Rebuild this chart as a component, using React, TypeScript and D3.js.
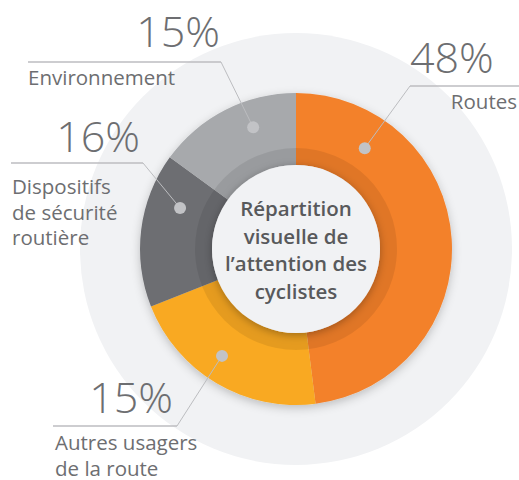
import React, { useEffect } from "react";
import * as d3 from "d3";

// ---- data ----
const categories = ["Routes", "Autres usagers de la route", "Dispositifs de sécurité routière", "Environnement"];
const labelValues = [48, 15, 16, 15]; // printed percentages
const arcShares = [48, 21, 16, 15]; // share of the ring as drawn
const sliceColors = ["#F3812B", "#F9A921", "#6D6E72", "#A7A9AC"];
const labelLines = [["Routes"], ["Autres usagers", "de la route"], ["Dispositifs", "de sécurité", "routière"], ["Environnement"]];
const centerTitle = ["Répartition", "visuelle de", "l’attention des", "cyclistes"];

// ---- layout for labels (leader geometry) ----
const dotAngles = [34.3, 214.7, 289.5, 340.6]; // degrees clockwise from top
const dotRadius = [122, 130, 123, 129];
const labelLayout = [
  { cornerX: 410, lineY: 86, lineX1: 519, side: "right", pctX: 410, pctY: 73, textX: 517, textY: 109 },
  { cornerX: 177, lineY: 426, lineX1: 53, side: "left", pctX: 173, pctY: 413, textX: 55, textY: 450 },
  { cornerX: 143, lineY: 163, lineX1: 11, side: "left", pctX: 140, pctY: 152, textX: 12, textY: 194 },
  { cornerX: 221, lineY: 62, lineX1: 28, side: "left", pctX: 220, pctY: 47, textX: 28, textY: 85 },
];

const W = 519;
const H = 480;
const cx = 296;
const cy = 249;

export default function App() {
  useEffect(() => {
    document.body.style.margin = "0";
  }, []);

  const pie = d3.pie<number>().sort(null).value((d) => d);
  const arcs = pie(arcShares);
  const outerR = 156;
  const bandR = 101;
  const innerR = 84;
  const arcGen = d3.arc<d3.PieArcDatum<number>>().innerRadius(innerR).outerRadius(outerR);
  const band = d3.arc()({ innerRadius: innerR, outerRadius: bandR, startAngle: 0, endAngle: Math.PI * 2 } as any) as string;

  const font = "'Open Sans', 'Noto Sans', sans-serif";
  const textColor = "#6D6E71";
  const lineColor = "#BCBDC0";

  return (
    <svg width={W} height={H} style={{ display: "block" }}>
      <defs>
        <filter id="donutShadow" x="-30%" y="-30%" width="160%" height="160%">
          <feDropShadow dx="0" dy="3" stdDeviation="5" floodColor="#000" floodOpacity="0.22" />
        </filter>
        <filter id="innerShadow" x="-30%" y="-30%" width="160%" height="160%">
          <feDropShadow dx="0" dy="2" stdDeviation="4" floodColor="#000" floodOpacity="0.3" />
        </filter>
      </defs>
      <circle cx={cx} cy={cy} r={216} fill="#F1F2F4" />
      <g transform={`translate(${cx},${cy})`}>
        <g filter="url(#donutShadow)">
          {arcs.map((a, i) => (
            <path key={i} d={arcGen(a) as string} fill={sliceColors[i]} />
          ))}
        </g>
        <path d={band} fill="#000" fillOpacity={0.08} />
        <circle r={innerR} fill="#F1F2F4" filter="url(#innerShadow)" />
        {centerTitle.map((t, i) => (
          <text
            key={i}
            x={0}
            y={216 - cy + i * 27.5}
            textAnchor="middle"
            fontFamily={font}
            fontWeight={600}
            fontSize={20.5}
            fill="#58595B"
          >
            {t}
          </text>
        ))}
      </g>
      {categories.map((c, i) => {
        const L = labelLayout[i];
        const ang = (dotAngles[i] * Math.PI) / 180;
        const dx = cx + Math.sin(ang) * dotRadius[i];
        const dy = cy - Math.cos(ang) * dotRadius[i];
        return (
          <g key={c}>
            <line x1={L.lineX1} x2={L.cornerX} y1={L.lineY} y2={L.lineY} stroke={lineColor} strokeWidth={1.6} />
            <line x1={L.cornerX} y1={L.lineY} x2={dx} y2={dy} stroke={lineColor} strokeWidth={1} />
            <circle cx={dx} cy={dy} r={6} fill="#C2C3C6" />
            <text
              x={L.pctX}
              y={L.pctY}
              textAnchor={L.side === "right" ? "start" : "end"}
              fontFamily={font}
              fontWeight={300}
              fontSize={43}
              fill={textColor}
            >
              {labelValues[i]}%
            </text>
            {labelLines[i].map((t, j) => (
              <text
                key={j}
                x={L.textX}
                y={L.textY + j * 25.5}
                textAnchor={L.side === "right" ? "end" : "start"}
                fontFamily={font}
                fontWeight={400}
                fontSize={20.5}
                fill={textColor}
              >
                {t}
              </text>
            ))}
          </g>
        );
      })}
    </svg>
  );
}
